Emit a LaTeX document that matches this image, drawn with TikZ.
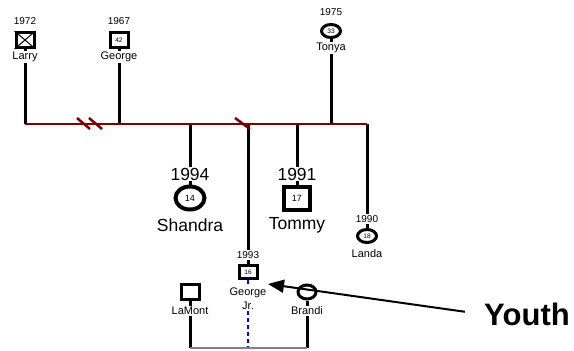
\documentclass[tikz,border=0pt]{standalone}
\usepackage{fontspec}
\setmainfont{Liberation Sans}
\usetikzlibrary{shapes.geometric,arrows.meta}
\definecolor{barred}{RGB}{128,0,0}
\begin{document}
\begin{tikzpicture}[x=1pt,y=-1pt,
    yr/.style={font=\fontsize{10}{10}\selectfont,inner sep=1pt},
    nm/.style={font=\fontsize{11}{11}\selectfont,inner sep=1pt},
    bigyr/.style={font=\fontsize{17.5}{17.5}\selectfont,inner sep=1pt},
    male/.style={draw,line width=3pt,inner sep=0pt,font=\fontsize{6.5}{6.5}\selectfont,
        minimum width=18pt,minimum height=15pt},
    female/.style={draw,ellipse,line width=3pt,inner sep=0pt,font=\fontsize{6.5}{6.5}\selectfont,
        minimum width=19pt,minimum height=13pt},
    kin/.style={line width=3pt},
    redline/.style={barred,line width=2.5pt},
    pointer/.style={line width=2pt,-{Triangle[length=16pt,width=13pt]}},
]
\useasboundingbox (0,0) rectangle (574,351);
\coordinate (bar) at (0,124);
\coordinate (base) at (0,348);
% <<< hàng trên
\path
(25,21) node[yr] (larryY) {1972}
(25,40) node[male] (larry) {}
(25,57) node[nm] (larryN) {Larry}
(119,21) node[yr] (georgeY) {1967}
(119,40) node[male] (george) {42}
(119,57) node[nm] (georgeN) {George}
(331,12) node[yr] (tonyaY) {1975}
(331,31) node[female] (tonya) {33}
(331,48) node[nm] (tonyaN) {Tonya};
\draw[line width=1pt] (larry.north west)--(larry.south east) (larry.north east)--(larry.south west);
% <<< hàng con
\path
(190,174) node[bigyr] (shandraY) {1994}
(190,198) node[female,line width=4pt,minimum width=29pt,minimum height=23pt,
    font=\fontsize{9}{9}\selectfont] (shandra) {14}
(190,225) node[bigyr] (shandraN) {Shandra}
(297,174) node[bigyr] (tommyY) {1991}
(297,198) node[male,line width=4pt,minimum width=26pt,minimum height=23pt,
    font=\fontsize{9}{9}\selectfont] (tommy) {17}
(297,225) node[bigyr] (tommyN) {Tommy}
(367,219) node[yr] (landaY) {1990}
(367,236) node[female] (landa) {18}
(367,254) node[nm] (landaN) {Landa}
(248,255) node[yr] (gjY) {1993}
(248,272) node[male,minimum height=13pt] (gj) {16}
(248,293) node[nm] (gjN) {George}
(248,306) node[nm] (gjJr) {Jr.};
% <<< hàng dưới
\path
(190,292) node[male] (lamont) {}
(190,311) node[nm] (lamontN) {LaMont}
(307,292) node[female,minimum width=18pt,minimum height=14pt] (brandi) {}
(307,311) node[nm] (brandiN) {Brandi}
(527,314) node[font=\fontsize{31}{31}\selectfont\bfseries] (youth) {Youth};
\coordinate (youthtip) at (268,284);
% đường nối
\draw[kin] (larry)--(larryN) (larryN)--(larryN |- bar);
\draw[kin] (george)--(georgeN) (georgeN)--(georgeN |- bar);
\draw[kin] (tonya)--(tonyaN) (tonyaN)--(tonyaN |- bar);
\draw[kin] (shandraY |- bar)--(shandraY) (shandraY)--(shandra);
\draw[kin] (tommyY |- bar)--(tommyY) (tommyY)--(tommy);
\draw[kin] (landaY |- bar)--(landaY) (landaY)--(landa);
\draw[kin] (gjY |- bar)--(gjY) (gjY)--(gj);
\draw[kin] (lamont)--(lamontN) (lamontN)--(lamontN |- base);
\draw[kin] (brandi)--(brandiN) (brandiN)--(brandiN |- base);
\draw[blue,line width=2pt,dash pattern=on 4pt off 3pt] (gj)--(gjN) (gjJr)--(gjJr |- base);
\draw[redline] (larryN |- bar)--(landaY |- bar);
\draw[redline] (77,118)--(90,129) (89,118)--(102,129) (235,118)--(250,129);
\draw[gray,line width=2.5pt] (lamontN |- base)--(brandiN |- base);
\draw[pointer,shorten <=16pt] (youth.west)--(youthtip);
\end{tikzpicture}
\end{document}
